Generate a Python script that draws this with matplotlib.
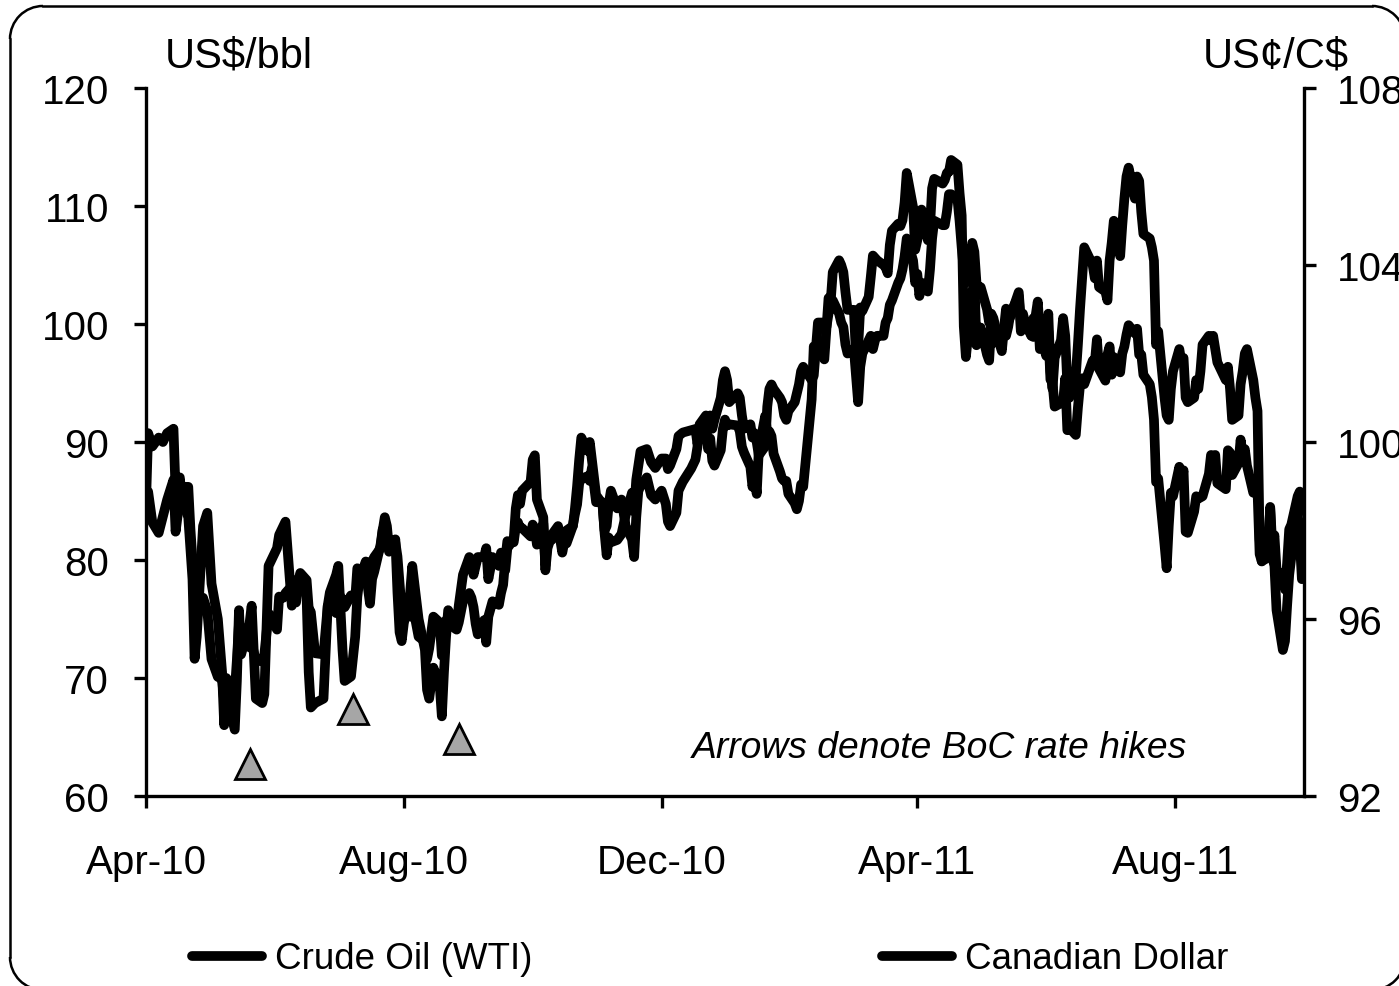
import pandas as pd
import matplotlib
matplotlib.use("Agg")
import matplotlib.pyplot as plt
from matplotlib.patches import Arc
from matplotlib.lines import Line2D

plt.rcParams['font.family'] = ['Liberation Sans', 'DejaVu Sans']

# trading days sampled from the chart (yy-mm-dd), one line per month
dates = [
    "10-04-13", "10-04-14", "10-04-16", "10-04-19", "10-04-21", "10-04-23", "10-04-26", "10-04-27", "10-04-29", "10-04-30",
    "10-05-03", "10-05-04", "10-05-05", "10-05-06", "10-05-07", "10-05-10", "10-05-12", "10-05-14", "10-05-17", "10-05-19", "10-05-20", "10-05-21", "10-05-25", "10-05-26", "10-05-27", "10-05-28",
    "10-06-01", "10-06-02", "10-06-04", "10-06-07", "10-06-08", "10-06-10", "10-06-14", "10-06-15", "10-06-17", "10-06-18", "10-06-21", "10-06-23", "10-06-25", "10-06-28", "10-06-29", "10-06-30",
    "10-07-02", "10-07-06", "10-07-08", "10-07-09", "10-07-12", "10-07-13", "10-07-15", "10-07-16", "10-07-19", "10-07-21", "10-07-22", "10-07-23", "10-07-26", "10-07-28", "10-07-29", "10-07-30",
    "10-08-02", "10-08-03", "10-08-04", "10-08-05", "10-08-06", "10-08-09", "10-08-10", "10-08-11", "10-08-12", "10-08-13", "10-08-16", "10-08-17", "10-08-18", "10-08-20", "10-08-23", "10-08-24", "10-08-25", "10-08-27", "10-08-30", "10-08-31",
    "10-09-01", "10-09-02", "10-09-03", "10-09-07", "10-09-08", "10-09-10", "10-09-13", "10-09-14", "10-09-15", "10-09-16", "10-09-17", "10-09-20", "10-09-21", "10-09-22", "10-09-24", "10-09-27", "10-09-28", "10-09-29", "10-09-30",
    "10-10-01", "10-10-04", "10-10-05", "10-10-06", "10-10-07", "10-10-08", "10-10-12", "10-10-13", "10-10-14", "10-10-15", "10-10-18", "10-10-19", "10-10-20", "10-10-22", "10-10-25", "10-10-27", "10-10-29",
    "10-11-01", "10-11-02", "10-11-03", "10-11-04", "10-11-05", "10-11-08", "10-11-09", "10-11-10", "10-11-12", "10-11-15", "10-11-16", "10-11-17", "10-11-18", "10-11-19", "10-11-22", "10-11-24", "10-11-26", "10-11-29", "10-11-30",
    "10-12-01", "10-12-02", "10-12-03", "10-12-06", "10-12-08", "10-12-10", "10-12-13", "10-12-15", "10-12-16", "10-12-17", "10-12-20", "10-12-21", "10-12-23", "10-12-27", "10-12-29", "10-12-30", "10-12-31",
    "11-01-03", "11-01-04", "11-01-05", "11-01-06", "11-01-07", "11-01-10", "11-01-11", "11-01-12", "11-01-13", "11-01-14", "11-01-18", "11-01-19", "11-01-20", "11-01-21", "11-01-24", "11-01-25", "11-01-26", "11-01-27", "11-01-28", "11-01-31",
    "11-02-01", "11-02-02", "11-02-03", "11-02-04", "11-02-07", "11-02-08", "11-02-09", "11-02-10", "11-02-11", "11-02-14", "11-02-15", "11-02-16", "11-02-17", "11-02-18", "11-02-22", "11-02-23", "11-02-24", "11-02-25", "11-02-28",
    "11-03-01", "11-03-02", "11-03-03", "11-03-04", "11-03-07", "11-03-08", "11-03-09", "11-03-10", "11-03-11", "11-03-14", "11-03-15", "11-03-16", "11-03-17", "11-03-18", "11-03-21", "11-03-22", "11-03-23", "11-03-24", "11-03-25", "11-03-28", "11-03-29", "11-03-30", "11-03-31",
    "11-04-01", "11-04-04", "11-04-05", "11-04-06", "11-04-07", "11-04-08", "11-04-11", "11-04-12", "11-04-13", "11-04-14", "11-04-15", "11-04-18", "11-04-19", "11-04-20", "11-04-21", "11-04-25", "11-04-26", "11-04-27", "11-04-28", "11-04-29",
    "11-05-02", "11-05-03", "11-05-04", "11-05-05", "11-05-06", "11-05-09", "11-05-10", "11-05-11", "11-05-12", "11-05-13", "11-05-16", "11-05-17", "11-05-18", "11-05-19", "11-05-20", "11-05-23", "11-05-24", "11-05-25", "11-05-26", "11-05-27", "11-05-31",
    "11-06-01", "11-06-02", "11-06-03", "11-06-06", "11-06-07", "11-06-08", "11-06-09", "11-06-10", "11-06-13", "11-06-14", "11-06-15", "11-06-16", "11-06-17", "11-06-20", "11-06-21", "11-06-22", "11-06-23", "11-06-24", "11-06-27", "11-06-28", "11-06-29", "11-06-30",
    "11-07-01", "11-07-05", "11-07-06", "11-07-07", "11-07-08", "11-07-11", "11-07-12", "11-07-13", "11-07-14", "11-07-15", "11-07-18", "11-07-19", "11-07-20", "11-07-21", "11-07-22", "11-07-25", "11-07-26", "11-07-27", "11-07-28", "11-07-29",
    "11-08-01", "11-08-02", "11-08-03", "11-08-04", "11-08-05", "11-08-08", "11-08-09", "11-08-10", "11-08-11", "11-08-12", "11-08-15", "11-08-16", "11-08-17", "11-08-18", "11-08-19", "11-08-22", "11-08-23", "11-08-24", "11-08-25", "11-08-26", "11-08-29", "11-08-30", "11-08-31",
    "11-09-01", "11-09-02", "11-09-06", "11-09-07", "11-09-08", "11-09-09", "11-09-12", "11-09-13", "11-09-14", "11-09-15", "11-09-16", "11-09-19", "11-09-20", "11-09-21", "11-09-22", "11-09-23", "11-09-26", "11-09-27", "11-09-28", "11-09-29", "11-09-30",
    "11-10-03", "11-10-04", "11-10-05", "11-10-06", "11-10-07", "11-10-10", "11-10-11", "11-10-12",
]

# Crude oil (WTI), US$/bbl
wti = [
    84.1, 85.8, 83.2, 82.3, 83.7, 85.1, 86.8, 82.4, 85.2, 86.2,
    86.2, 82.7, 80.0, 77.1, 75.1, 76.8, 75.7, 71.6, 70.1, 69.9, 68.0, 70.0, 68.8, 71.5, 74.6, 74.0,
    72.6, 72.9, 71.5, 71.4, 72.0, 75.5, 74.1, 76.9, 76.8, 77.2, 77.8, 76.4, 78.9, 78.3, 75.9, 75.6,
    72.1, 72.0, 76.1, 76.1, 75.5, 77.2, 76.6, 76.0, 77.0, 76.7, 79.3, 79.0, 79.0, 76.3, 78.4, 79.0,
    81.3, 82.6, 82.5, 82.0, 80.7, 81.5, 80.3, 78.0, 75.7, 75.4, 75.2, 75.8, 75.4, 73.5, 73.1, 71.6, 72.5, 75.2, 74.7, 71.9,
    73.9, 74.9, 74.6, 74.1, 74.7, 76.5, 77.2, 76.8, 76.0, 74.6, 73.7, 74.9, 73.0, 75.2, 76.5, 76.2, 77.2, 77.9, 80.0,
    81.6, 81.5, 82.8, 83.2, 82.7, 82.7, 82.0, 83.0, 82.7, 81.3, 83.1, 79.5, 81.8, 81.7, 82.5, 81.9, 81.4,
    82.9, 83.9, 84.7, 86.5, 86.9, 87.1, 86.7, 87.8, 84.9, 84.9, 82.3, 80.4, 81.9, 81.5, 81.7, 82.2, 83.8, 85.7, 84.1,
    86.8, 88.0, 89.2, 89.4, 88.3, 87.8, 88.6, 88.6, 87.7, 88.0, 89.4, 90.5, 90.8, 91.0, 91.1, 89.8, 91.4,
    91.6, 89.4, 90.3, 88.4, 88.0, 89.3, 91.1, 91.9, 91.4, 91.5, 91.4, 90.9, 89.6, 89.1, 87.9, 86.2, 87.3, 85.6, 89.3, 92.2,
    90.8, 90.9, 90.5, 89.0, 87.5, 86.9, 86.7, 86.7, 85.6, 84.8, 84.3, 85.0, 86.4, 86.2, 93.6, 98.1, 97.3, 97.9, 97.0,
    99.6, 102.2, 101.9, 104.4, 105.4, 105.0, 104.4, 102.7, 101.2, 101.2, 97.2, 98.0, 101.4, 101.1, 102.3, 104.0, 105.8, 105.6, 105.4, 105.0, 104.8, 104.3, 106.7,
    107.9, 108.5, 108.3, 108.8, 110.3, 112.8, 109.9, 106.3, 107.1, 108.1, 109.7, 107.1, 108.2, 111.5, 112.3, 111.9, 112.2, 112.8, 112.9, 113.9,
    113.5, 111.1, 109.2, 99.8, 97.2, 102.6, 103.9, 98.2, 99.0, 99.7, 97.4, 96.9, 100.1, 98.4, 99.5, 97.7, 99.6, 101.3, 100.2, 100.6, 102.7,
    100.3, 100.4, 100.2, 99.0, 98.9, 100.7, 101.9, 99.3, 97.3, 99.4, 95.3, 95.0, 93.0, 93.3, 93.4, 95.4, 91.0, 91.2, 90.6, 92.9, 94.8, 95.4,
    94.9, 96.9, 96.7, 98.7, 96.2, 95.2, 97.4, 98.1, 95.7, 97.2, 95.9, 97.5, 98.1, 99.1, 99.9, 99.2, 99.6, 97.4, 97.4, 95.7,
    94.9, 93.8, 91.9, 86.6, 86.9, 81.3, 79.3, 82.9, 85.7, 85.4, 87.9, 86.7, 87.6, 82.4, 82.3, 84.1, 85.4, 85.2, 85.3, 85.4, 87.3, 88.9, 88.8,
    88.9, 86.5, 86.0, 89.3, 89.1, 87.2, 88.2, 90.2, 88.9, 89.4, 88.0, 85.7, 86.9, 85.9, 80.5, 79.9, 80.2, 84.5, 81.2, 82.1, 79.2,
    78.5, 77.5, 79.7, 82.6, 83.0, 85.4, 85.8, 84.3,
]

# Canadian dollar, US cents per C$
cad = [
    98.6, 100.2, 99.9, 100.1, 100.0, 100.2, 100.3, 98.9, 99.2, 98.7,
    98.3, 97.6, 96.9, 95.1, 95.6, 98.1, 98.4, 96.8, 96.0, 94.8, 93.6, 94.3, 93.5, 94.6, 96.2, 95.2,
    95.9, 96.3, 94.2, 94.1, 94.3, 97.2, 97.6, 97.9, 98.1, 98.2, 96.3, 96.8, 97.0, 96.5, 94.8, 94.0,
    94.1, 94.2, 96.3, 96.6, 97.0, 97.2, 95.3, 94.6, 94.7, 95.6, 96.5, 96.9, 97.3, 96.9, 97.3, 97.4,
    97.6, 98.0, 98.3, 98.1, 97.6, 97.8, 96.6, 95.7, 95.5, 95.9, 96.6, 97.2, 96.8, 96.0, 95.3, 94.4, 94.2, 94.9, 94.5, 93.8,
    94.8, 95.6, 96.2, 95.8, 96.3, 97.0, 97.4, 97.3, 97.0, 97.2, 97.4, 97.4, 97.6, 96.9, 97.4, 97.2, 97.5, 97.3, 97.1,
    97.6, 97.8, 98.5, 98.8, 98.6, 98.9, 99.1, 99.6, 99.7, 98.7, 98.3, 97.1, 97.6, 97.9, 98.1, 97.5, 98.0,
    98.1, 98.5, 99.0, 99.6, 100.1, 99.8, 100.0, 99.6, 98.8, 98.6, 98.0, 98.1, 98.6, 98.9, 98.5, 98.7, 98.1, 97.8, 97.4,
    98.3, 98.9, 99.0, 99.2, 98.8, 98.7, 98.9, 98.6, 98.2, 98.1, 98.4, 98.9, 99.1, 99.4, 99.6, 99.9, 100.4,
    100.6, 100.4, 100.6, 100.3, 100.5, 101.0, 101.4, 101.6, 101.4, 100.9, 101.1, 101.0, 100.6, 100.3, 100.4, 100.1, 100.2, 100.0, 99.7, 99.9,
    100.8, 101.2, 101.3, 101.2, 101.0, 100.9, 100.6, 100.5, 100.7, 100.9, 101.1, 101.3, 101.6, 101.7, 101.4, 101.5, 102.1, 102.7, 102.7,
    102.6, 102.9, 103.1, 103.2, 102.9, 102.7, 102.6, 102.2, 102.0, 102.1, 101.5, 100.9, 101.7, 102.0, 102.3, 102.4, 102.1, 102.3, 102.4, 102.4, 102.7, 102.8, 103.1,
    103.2, 103.6, 103.7, 103.9, 104.2, 104.6, 104.1, 103.6, 103.8, 103.3, 103.6, 103.4, 103.9, 104.6, 105.0, 104.9, 104.9, 105.2, 105.6, 105.6,
    105.5, 105.0, 104.4, 103.9, 103.6, 104.5, 104.3, 103.6, 103.4, 103.5, 103.0, 102.7, 102.9, 102.8, 102.6, 102.3, 102.5, 102.4, 102.6, 102.9, 103.3,
    102.5, 102.9, 102.7, 102.4, 102.8, 102.6, 103.0, 102.1, 102.5, 102.9, 101.6, 101.2, 101.9, 102.3, 102.8, 102.4, 101.3, 101.0, 101.5, 102.2, 103.0, 103.7,
    104.4, 104.0, 103.7, 104.1, 103.5, 103.4, 103.2, 104.1, 104.5, 105.0, 104.2, 104.9, 105.5, 106.0, 106.2, 105.5, 106.0, 105.9, 105.2, 104.7,
    104.6, 104.4, 104.1, 102.2, 102.5, 101.0, 100.6, 100.5, 101.2, 101.6, 102.1, 101.8, 101.9, 101.0, 100.9, 101.0, 101.4, 101.2, 101.6, 102.2, 102.4, 102.3, 102.4,
    102.1, 101.8, 101.4, 101.7, 101.2, 100.5, 100.6, 101.3, 101.6, 102.0, 102.1, 101.4, 101.0, 100.7, 97.8, 97.3, 97.6, 98.5, 97.4, 97.2, 96.2,
    95.3, 95.5, 96.3, 97.0, 97.4, 98.4, 97.8, 96.9,
]

# Bank of Canada rate hikes, marked with triangles on the left scale
hike_dates = ["10-06-01", "10-07-20", "10-09-08"]
hike_levels = [62.7, 67.4, 64.8]

tick_dates = ["10-04-13", "10-08-13", "10-12-13", "11-04-13", "11-08-13"]
tick_labels = ["Apr-10", "Aug-10", "Dec-10", "Apr-11", "Aug-11"]
legend_labels = ["Crude Oil (WTI)", "Canadian Dollar"]

fmt = "%y-%m-%d"
dt = pd.to_datetime(dates, format=fmt)

fig = plt.figure(figsize=(13.99, 9.87), dpi=100)
ax = fig.add_axes([146 / 1399, 1 - 797 / 987, 1158 / 1399, 708 / 987])
ax2 = ax.twinx()

line_kw = dict(color='black', lw=7, solid_joinstyle='round', solid_capstyle='round')
l1, = ax.plot(dt, wti, **line_kw)
l2, = ax2.plot(dt, cad, **line_kw)

ax.plot(pd.to_datetime(hike_dates, format=fmt), hike_levels, linestyle='none',
        marker='^', ms=21, mfc='#a6a6a6', mec='black', mew=2, zorder=5, clip_on=False)

ax.set_xlim(pd.Timestamp('2010-04-13'), pd.Timestamp('2011-10-13'))
ax.set_xticks(pd.to_datetime(tick_dates, format=fmt))
ax.set_xticklabels(tick_labels)
ax.set_ylim(60, 120)
ax.set_yticks(range(60, 121, 10))
ax2.set_ylim(92, 108)
ax2.set_yticks(range(92, 109, 4))

for s in ['top', 'right']:
    ax.spines[s].set_visible(False)
for s in ['top', 'left', 'bottom']:
    ax2.spines[s].set_visible(False)
for a in (ax, ax2):
    for s in a.spines.values():
        s.set_linewidth(2.4)

ax.tick_params(axis='y', direction='out', length=8.6, width=2.4, pad=18, labelsize=29)
ax.tick_params(axis='x', direction='out', length=8.6, width=2.4, pad=25, labelsize=29)
ax2.tick_params(axis='y', direction='out', length=8.6, width=2.4, pad=15, labelsize=29)

ax.text(0.4715, 0.055, "Arrows denote BoC rate hikes", transform=ax.transAxes,
        fontsize=26.8, style='italic', va='baseline', ha='left')

fig.text(165 / 1399, 1 - 67 / 987, "US$/bbl", fontsize=30, va='baseline', ha='left')
fig.text(1203 / 1399, 1 - 67 / 987, "US¢/C$", fontsize=30, va='baseline', ha='left')

fig.legend(handles=[l1, l2], labels=legend_labels, loc='center left',
           bbox_to_anchor=(192 / 1399, 1 - 960 / 987), ncol=2, frameon=False,
           fontsize=26.5, handlelength=1.9, handletextpad=0.35, columnspacing=9.5,
           borderpad=0, borderaxespad=0)

# rounded outer frame (inches); its right side lies past the image edge, so
# only the top, left, bottom sides and the corner arcs are drawn
x0, x1, y0, y1, r = 0.10, 14.05, -0.04, 9.80, 0.33
frame_kw = dict(transform=fig.dpi_scale_trans, color='black', lw=1.8)
fig.add_artist(Line2D([x0 + r, x1 - r], [y1, y1], **frame_kw))
fig.add_artist(Line2D([x0 + r, x1 - r], [y0, y0], **frame_kw))
fig.add_artist(Line2D([x0, x0], [y0 + r, y1 - r], **frame_kw))
for cx, cy, t1, t2 in [(x0 + r, y1 - r, 90, 180), (x1 - r, y1 - r, 0, 90),
                       (x0 + r, y0 + r, 180, 270), (x1 - r, y0 + r, 270, 360)]:
    fig.add_artist(Arc((cx, cy), 2 * r, 2 * r, theta1=t1, theta2=t2,
                       transform=fig.dpi_scale_trans, color='black', lw=1.8))

fig.savefig('out.png', dpi=100)
